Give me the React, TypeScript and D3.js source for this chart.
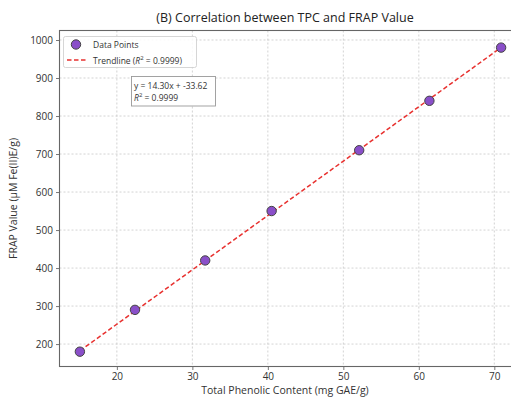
import * as d3 from 'd3'
import { useEffect, useRef } from 'react';

// values
const tpc = [15.1, 22.4, 31.7, 40.5, 52.1, 61.4, 70.9];
const frap = [180, 290, 420, 550, 710, 840, 980];
const xTicks = [20, 30, 40, 50, 60, 70];
const yTicks = [200, 300, 400, 500, 600, 700, 800, 900, 1000];
const slope = 14.30;
const intercept = -33.62;
const r2Label = '0.9999';

const W = 511, H = 398;
const FONT = "'Open Sans', 'DejaVu Sans', sans-serif";

function drawChart(svgEl: SVGSVGElement) {
    const svg = d3.select(svgEl);
    svg.selectAll('*').remove();

    const left = 59.5, top = 30.5, right = 523, bottom = 366.5;
    const xSc = d3.scaleLinear().domain([12.4, 73.8]).range([left, right]);
    const ySc = d3.scaleLinear().domain([141, 1025]).range([bottom, top]);

    // grid
    const grid = svg.append('g');
    grid.selectAll('line.gx').data(xTicks).enter().append('line')
        .attr('x1', d => xSc(d)).attr('x2', d => xSc(d))
        .attr('y1', top).attr('y2', bottom)
        .attr('stroke', '#c8c8c8').attr('stroke-width', 0.8).attr('stroke-dasharray', '2,2');
    grid.selectAll('line.gy').data(yTicks).enter().append('line')
        .attr('y1', d => ySc(d)).attr('y2', d => ySc(d))
        .attr('x1', left).attr('x2', right)
        .attr('stroke', '#c8c8c8').attr('stroke-width', 0.8).attr('stroke-dasharray', '2,2');

    // axes
    const xAxis = svg.append('g').attr('transform', `translate(0,${bottom})`)
        .call(d3.axisBottom(xSc).tickValues(xTicks).tickFormat(d3.format('d')).tickSize(3.5).tickPadding(3));
    const yAxis = svg.append('g').attr('transform', `translate(${left},0)`)
        .call(d3.axisLeft(ySc).tickValues(yTicks).tickFormat(d3.format('d')).tickSize(3.5).tickPadding(3));
    [xAxis, yAxis].forEach(a => {
        a.select('.domain').remove();
        a.selectAll('line').attr('stroke', '#555').attr('stroke-width', 0.8);
        a.selectAll('text').attr('fill', '#333').attr('font-size', 10).attr('font-family', FONT);
    });

    // frame
    svg.append('rect').attr('x', left).attr('y', top)
        .attr('width', right - left).attr('height', bottom - top)
        .attr('fill', 'none').attr('stroke', '#666').attr('stroke-width', 1.1);

    // trendline
    const x0 = d3.min(tpc)!, x1 = d3.max(tpc)!;
    const lnMkr = d3.line<number>().x(d => xSc(d)).y(d => ySc(slope * d + intercept));
    svg.append('path').attr('d', lnMkr([x0, x1]))
        .attr('fill', 'none').attr('stroke', '#e8312f').attr('stroke-width', 1.5)
        .attr('stroke-dasharray', '4.5,2.5');

    // points
    svg.append('g').selectAll('circle').data(tpc).enter().append('circle')
        .attr('cx', d => xSc(d)).attr('cy', (d, i) => ySc(frap[i]))
        .attr('r', 4.7).attr('fill', '#8a4fc9').attr('stroke', '#444').attr('stroke-width', 1);

    // title and labels
    svg.append('text').attr('x', 285).attr('y', 22).attr('text-anchor', 'middle')
        .attr('font-size', 12.5).attr('font-family', FONT).attr('fill', '#222')
        .text('(B) Correlation between TPC and FRAP Value');
    svg.append('text').attr('x', 285).attr('y', 394).attr('text-anchor', 'middle')
        .attr('font-size', 10.5).attr('font-family', FONT).attr('fill', '#333')
        .text('Total Phenolic Content (mg GAE/g)');
    svg.append('text').attr('transform', `translate(17,${(top + bottom) / 2}) rotate(-90)`)
        .attr('text-anchor', 'middle')
        .attr('font-size', 10.5).attr('font-family', FONT).attr('fill', '#333')
        .text('FRAP Value (µM Fe(II)E/g)');

    // legend
    const lg = svg.append('g');
    lg.append('rect').attr('x', 63.5).attr('y', 36.5).attr('width', 133).attr('height', 31)
        .attr('rx', 2).attr('fill', 'white').attr('fill-opacity', 0.85)
        .attr('stroke', '#ccc').attr('stroke-width', 0.8);
    lg.append('circle').attr('cx', 76).attr('cy', 44.5).attr('r', 4.7)
        .attr('fill', '#8a4fc9').attr('stroke', '#444').attr('stroke-width', 1);
    lg.append('line').attr('x1', 67).attr('x2', 87).attr('y1', 60).attr('y2', 60)
        .attr('stroke', '#e8312f').attr('stroke-width', 1.5).attr('stroke-dasharray', '4.5,2.5');
    lg.append('text').attr('x', 93).attr('y', 48).attr('font-size', 8.5)
        .attr('font-family', FONT).attr('fill', '#333').text('Data Points');
    const t2 = lg.append('text').attr('x', 93).attr('y', 63.5).attr('font-size', 8.5)
        .attr('font-family', FONT).attr('fill', '#333');
    t2.append('tspan').text('Trendline (');
    t2.append('tspan').attr('font-style', 'italic').text('R');
    t2.append('tspan').attr('font-size', 6).attr('dy', -3.5).text('2');
    t2.append('tspan').attr('dy', 3.5).text(` = ${r2Label})`);

    // equation box
    const eq = svg.append('g');
    eq.append('rect').attr('x', 131.5).attr('y', 76.5).attr('width', 84).attr('height', 29.5)
        .attr('fill', 'white').attr('stroke', '#999').attr('stroke-width', 0.9);
    eq.append('text').attr('x', 134).attr('y', 89).attr('font-size', 8.5)
        .attr('font-family', FONT).attr('fill', '#333')
        .text(`y = ${slope.toFixed(2)}x + ${intercept.toFixed(2)}`);
    const t3 = eq.append('text').attr('x', 134).attr('y', 100.5).attr('font-size', 8.5)
        .attr('font-family', FONT).attr('fill', '#333');
    t3.append('tspan').attr('font-style', 'italic').text('R');
    t3.append('tspan').attr('font-size', 6).attr('dy', -3.5).text('2');
    t3.append('tspan').attr('dy', 3.5).text(` = ${r2Label}`);
}

function App() {
    const ref = useRef<SVGSVGElement>(null);
    useEffect(() => {
        if (ref.current) drawChart(ref.current);
    });

    return (
        <svg ref={ref} width={W} height={H}
            style={{ position: 'absolute', left: 0, top: 0, background: 'white' }}>
        </svg>
    );
}

export default App;
